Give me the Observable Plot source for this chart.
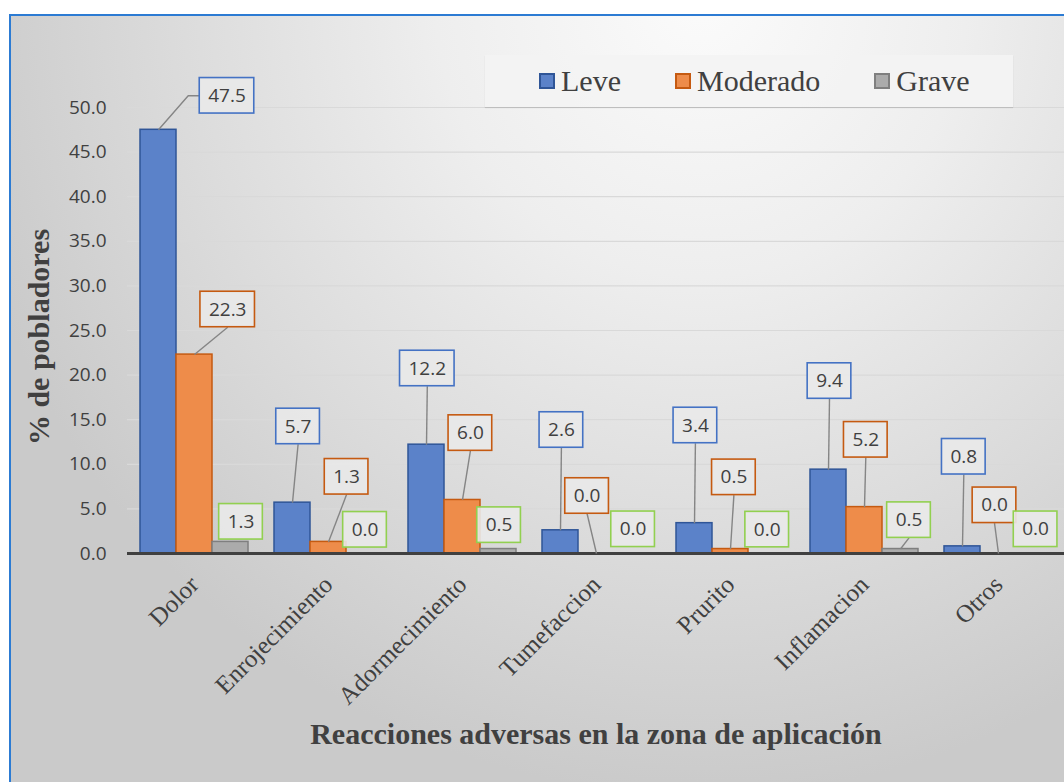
<!DOCTYPE html>
<html><head><meta charset="utf-8">
<script src="https://cdn.jsdelivr.net/npm/d3@7"></script>
<script src="https://cdn.jsdelivr.net/npm/@observablehq/plot@0.6"></script>
<style>
body{margin:0;background:#fff;}
#wrap{position:relative;width:1064px;height:782px;overflow:hidden;background:#fff;}
#frame{position:absolute;left:9px;top:14px;width:1120px;height:820px;border-left:2px solid #2C7BD3;border-top:2px solid #2C7BD3;
 background:radial-gradient(ellipse 760px 800px at 690px -20px,#fbfbfb 0%,#eeeeee 35%,#dcdcdc 68%,#cacaca 100%);}
#chart{position:absolute;left:0;top:0;}
#legend{position:absolute;left:485px;top:55px;width:528px;height:52px;background:rgba(243,243,243,0.92);box-shadow:0 1px 1px rgba(0,0,0,0.12);
 display:flex;align-items:center;padding-left:54px;box-sizing:border-box;gap:54px;font:30px/30px "Liberation Serif","Times New Roman",serif;color:#404040;}
#legend .item{display:flex;align-items:center;gap:6px;}
#legend .sw{width:16px;height:16px;box-sizing:border-box;border:2px solid;}
#ytitle{position:absolute;left:38.5px;top:336.5px;transform:translate(-50%,-50%) rotate(-90deg);white-space:nowrap;font:bold 30px/30px "Liberation Serif","Times New Roman",serif;color:#404040;}
#xtitle{position:absolute;left:596px;top:719px;transform:translateX(-50%);white-space:nowrap;font:bold 30px/30px "Liberation Serif","Times New Roman",serif;color:#404040;}
</style></head>
<body>
<div id="wrap">
 <div id="frame"></div>
 <div id="chart"></div>
 <div id="legend"></div>
 <div id="ytitle">% de pobladores</div>
 <div id="xtitle">Reacciones adversas en la zona de aplicación</div>
</div>
<script>
// ---- data ----
const categories = ["Dolor","Enrojecimiento","Adormecimiento","Tumefaccion","Prurito","Inflamacion","Otros"];
const series = ["Leve","Moderado","Grave"];
const leve = [47.5, 5.7, 12.2, 2.6, 3.4, 9.4, 0.8];
const moderado = [22.3, 1.3, 6.0, 0.0, 0.5, 5.2, 0.0];
const grave = [1.3, 0.0, 0.5, 0.0, 0.0, 0.5, 0.0];
const yTicks = [0, 5, 10, 15, 20, 25, 30, 35, 40, 45, 50];
const yTickLabels = ["0.0","5.0","10.0","15.0","20.0","25.0","30.0","35.0","40.0","45.0","50.0"];

// ---- styles / layout ----
const barFill = ["#5B82C9", "#EE8C4A", "#ABABAB"];
const barStroke = ["#2F5597", "#C55A11", "#7F7F7F"];
const boxStroke = ["#4472C4", "#C55A11", "#92D050"];
// callout box centre offsets (px) from each bar's top centre
const labelDx = {
  Leve: [68.5, 5.6, 0.8, 0.9, 0.9, 1.0, 1.3],
  Moderado: [33.2, 18.1, 7.9, -9.4, 3.4, 1.3, -4.0],
  Grave: [10.5, 0.5, 0.6, 0.6, 0.7, 8.5, 1.1]
};
const labelDy = {
  Leve: [-34, -76.2, -76.2, -100.3, -97.7, -88.6, -89.6],
  Moderado: [-45.1, -65.1, -66.9, -57.5, -71.7, -67.3, -48.2],
  Grave: [-20.1, -23.7, -23.9, -24.2, -23.9, -28.9, -24.2]
};

const W = 1068, H = 782, ML = 124, MR = 0, MT = 107, MB = 229;
const PO = 0.32;
const step = (W - ML - MR) / categories.length;
const bw = step / (series.length + 2 * PO);

const seriesValues = [leve, moderado, grave];
const rows = [];
categories.forEach((c, i) => seriesValues.forEach((vals, j) => rows.push({cat: c, series: series[j], value: vals[i], i, j})));

const ctx = document.createElement("canvas").getContext("2d");
ctx.font = "19px 'Open Sans'";
const textWidth = (s) => ctx.measureText(s).width;

function offsetCurve(pts) {
  return (context) => {
    let started = false;
    return {
      areaStart() {}, areaEnd() {},
      lineStart() { started = false; },
      lineEnd() {},
      point(x, y) {
        if (started) return;
        started = true;
        context.moveTo(x, y);
        for (const [ox, oy] of pts) context.lineTo(x + ox, y + oy);
      }
    };
  };
}

const marks = [
  Plot.ruleY(yTicks, {stroke: "#d9d9d9", strokeWidth: 1.2}),
  ...series.map((s, j) => Plot.barY(rows.filter(r => r.series === s), {
    fx: "cat", x: "series", y1: 0, y2: "value", fill: barFill[j], stroke: barStroke[j], strokeWidth: 1.5
  })),
  Plot.ruleY([0], {stroke: "#404040", strokeWidth: 3}),
  Plot.axisY({ticks: yTicks, tickFormat: d => yTickLabels[yTicks.indexOf(d)], tickSize: 0, tickPadding: 21,
    fontSize: 19, fontFamily: "'Open Sans'", label: null}),
  Plot.axisFx({anchor: "bottom", tickSize: 0, tickPadding: 27, tickRotate: -45,
    fontSize: 25, fontFamily: "'Liberation Serif'", label: null})
];

const BH = 35.5;
rows.forEach(r => {
  const dx = labelDx[r.series][r.i], dy = labelDy[r.series][r.i];
  const txt = r.value.toFixed(1);
  const w = textWidth(txt) + 18;
  let pts = null;
  if (Math.abs(dx) > w / 2 + 8) {
    const side = dx > 0 ? -1 : 1;
    const ex = dx + side * w / 2;
    pts = [[ex + side * 11, dy], [ex, dy]];
  } else if (-dy - BH / 2 > 8) {
    pts = [[dx, dy + BH / 2]];
  }
  if (pts) marks.push(Plot.link([r], {fx: "cat", x1: "series", x2: "series", y1: "value", y2: "value",
    stroke: "#858585", strokeWidth: 1.4, curve: offsetCurve(pts)}));
  const inset = -(w - bw) / 2;
  marks.push(Plot.barY([r], {fx: "cat", x: "series", y1: "value", y2: "value",
    insetLeft: inset, insetRight: inset, insetTop: -BH / 2, insetBottom: -BH / 2, dx, dy,
    fill: "#e9e9e9", fillOpacity: 0.9, stroke: boxStroke[r.j], strokeWidth: 1.6}));
  marks.push(Plot.text([r], {fx: "cat", x: "series", y: "value", text: d => d.value.toFixed(1), dx, dy,
    fontSize: 19, fontFamily: "'Open Sans'", fill: "#404040"}));
});

const svg = Plot.plot({
  width: W, height: H,
  marginLeft: ML, marginRight: MR, marginTop: MT, marginBottom: MB,
  style: {background: "transparent", maxWidth: "none", overflow: "visible", color: "#404040"},
  fx: {domain: categories, padding: 0, axis: null},
  x: {domain: series, paddingInner: 0, paddingOuter: PO, axis: null},
  y: {domain: [0, 50], axis: null},
  marks
});
document.getElementById("chart").appendChild(svg);

// legend
const legend = document.getElementById("legend");
series.forEach((s, j) => {
  const it = document.createElement("div");
  it.className = "item";
  const sw = document.createElement("div");
  sw.className = "sw";
  sw.style.background = barFill[j];
  sw.style.borderColor = barStroke[j];
  const t = document.createElement("span");
  t.textContent = s;
  it.appendChild(sw); it.appendChild(t);
  legend.appendChild(it);
});
</script>
</body></html>
